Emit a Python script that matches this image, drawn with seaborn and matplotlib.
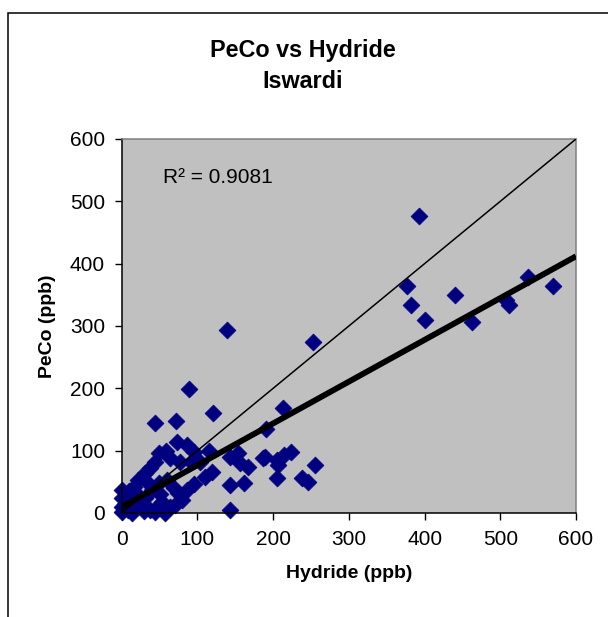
import matplotlib
matplotlib.use("Agg")
import matplotlib.pyplot as plt
import seaborn as sns
import pandas as pd
from matplotlib.patches import Rectangle

# ---- data ----
hydride = [393, 377, 382, 401, 440, 462, 508, 512, 536, 569,
           139, 252, 89, 121, 213, 191, 44, 72,
           49, 44, 38, 31, 64, 77, 22, 16, 0, 0, 0, 0, 14, 22, 31, 40, 49, 60, 69, 75,
           53, 64, 44, 57, 71, 80, 86,
           73, 86, 95, 115, 92, 103, 119, 110, 96, 143, 154, 156, 167, 143, 161, 143, 187,
           189, 205, 215, 224, 207, 205, 255, 238, 246,
           58, 10, 33, 50, 46, 30, 8, 5, 10, 20, 11, 37]
peco = [476, 364, 334, 310, 350, 307, 341, 334, 379, 364,
        294, 274, 199, 160, 169, 135, 144, 148,
        96, 82, 72, 64, 88, 82, 53, 42, 37, 24, 10, 2, 0, 13, 24, 37, 48, 53, 40, 32,
        18, 10, 2, 0, 13, 21, 37,
        114, 109, 98, 99, 82, 82, 66, 58, 47, 90, 96, 80, 74, 45, 48, 5, 88,
        90, 85, 93, 98, 77, 56, 77, 56, 50,
        100, 35, 50, 30, 10, 4, 5, 15, 25, 30, 21, 5]

title_lines = ["PeCo vs Hydride", "Iswardi"]
x_label = "Hydride (ppb)"
y_label = "PeCo (ppb)"
r2_text = "R² = 0.9081"
ticks = [0, 100, 200, 300, 400, 500, 600]

df = pd.DataFrame({"Hydride": hydride, "PeCo": peco})

sns.set_style("white")
plt.rcParams["font.family"] = ["Liberation Sans", "DejaVu Sans"]
plt.rcParams["text.color"] = "black"
plt.rcParams["axes.labelcolor"] = "black"
plt.rcParams["xtick.color"] = "black"
plt.rcParams["ytick.color"] = "black"

W, H = 608, 617
fig = plt.figure(figsize=(W / 100, H / 100), dpi=100)
ax = fig.add_axes([121.7 / W, 1 - 513 / H, (576 - 121.7) / W, (513 - 139) / H])
ax.set_facecolor("#C0C0C0")

ax.set_xlim(0, 600)
ax.set_ylim(0, 600)

sns.scatterplot(data=df, x="Hydride", y="PeCo", marker="D", s=74,
                color="#000080", edgecolor="#000080", linewidth=0.5, ax=ax,
                clip_on=False, zorder=2)

ax.axline((0, 0), slope=1, color="black", lw=1.1, zorder=3)
sns.regplot(data=df, x="Hydride", y="PeCo", scatter=False, ci=None, truncate=False,
            color="black", line_kws={"lw": 4.2, "zorder": 4, "solid_capstyle": "butt"}, ax=ax)

ax.set_xlim(0, 600)
ax.set_ylim(0, 600)
ax.set_xticks(ticks)
ax.set_yticks(ticks)
ax.tick_params(axis="both", direction="out", length=5, width=1, color="black",
               labelcolor="black", labelsize=15, pad=7, bottom=True, left=True)

for side in ["left", "bottom"]:
    ax.spines[side].set_color("black")
    ax.spines[side].set_linewidth(1.1)
for side in ["top", "right"]:
    ax.spines[side].set_color("#808080")
    ax.spines[side].set_linewidth(1.1)

ax.set_xlabel(x_label, fontsize=14, fontweight="bold", labelpad=12, color="black")
ax.set_ylabel(y_label, fontsize=14, fontweight="bold", labelpad=10, color="black")

ax.text(0.091, 0.898, r2_text, transform=ax.transAxes, fontsize=15,
        va="center", ha="left", color="black")

fig.text(303 / W, 1 - 50 / H, title_lines[0], fontsize=16.8, fontweight="bold",
         ha="center", va="center", color="black")
fig.text(303 / W, 1 - 82 / H, title_lines[1], fontsize=16.8, fontweight="bold",
         ha="center", va="center", color="black")

# outer chart border (clipped at right and bottom like the reference)
fig.patches.append(Rectangle((8 / W, -0.1), 1.2, 1 - 13 / H + 0.1,
                             transform=fig.transFigure, fill=False,
                             edgecolor="black", lw=1.1))

fig.savefig("out.png", dpi=100)
